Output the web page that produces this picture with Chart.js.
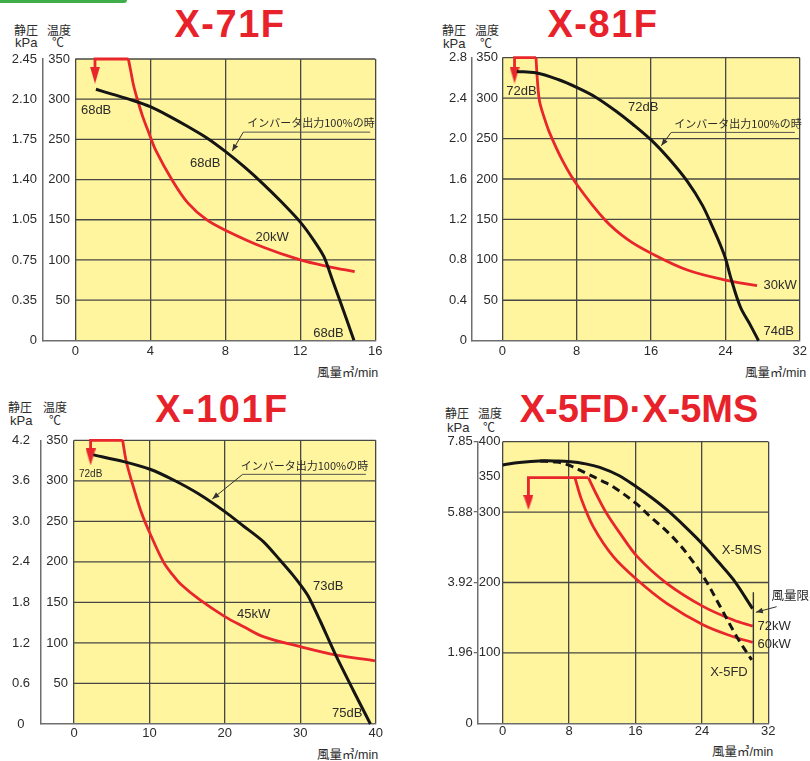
<!DOCTYPE html>
<html><head><meta charset="utf-8">
<script src="https://cdn.jsdelivr.net/npm/chart.js@4.4.1/dist/chart.umd.min.js"></script>
<style>
html,body{margin:0;padding:0;background:#fff;}
body{width:810px;height:761px;position:relative;overflow:hidden;font-family:"Liberation Sans",Arial,"Noto Sans CJK JP",sans-serif;color:#2b2b2b;}
canvas{position:absolute;}
.t{position:absolute;white-space:nowrap;}
.title{font-weight:bold;font-size:38px;line-height:38px;color:#e8222b;letter-spacing:1.5px;transform:translateX(-50%);}
.jp{font-family:"Noto Sans CJK JP",sans-serif;font-size:12px;line-height:12px;}
.unit{font-size:13px;line-height:13px;}
.xl{font-size:12.5px;line-height:14px;}
.green{position:absolute;left:0;top:0;width:127px;height:3px;background:#3fae49;border-bottom-right-radius:3px;}
</style></head><body>
<div class="green"></div>

<div class="t title" style="left:230px;top:5px;">X-71F</div>
<div class="t title" style="left:603px;top:5px;">X-81F</div>
<div class="t title" style="left:222px;top:390px;">X-101F</div>
<div class="t title" style="left:639px;top:390px;letter-spacing:0;">X-5FD·X-5MS</div>

<div class="t jp" style="left:14px;top:23.5px;">静圧</div>
<div class="t unit" style="left:15px;top:36px;">kPa</div>
<div class="t jp" style="left:47px;top:23.5px;">温度</div>
<div class="t jp" style="left:52px;top:36px;">℃</div>

<div class="t jp" style="left:442px;top:24px;">静圧</div>
<div class="t unit" style="left:443px;top:37px;">kPa</div>
<div class="t jp" style="left:475px;top:24px;">温度</div>
<div class="t jp" style="left:480px;top:37px;">℃</div>

<div class="t jp" style="left:8px;top:401px;">静圧</div>
<div class="t unit" style="left:10px;top:414px;">kPa</div>
<div class="t jp" style="left:43px;top:401px;">温度</div>
<div class="t jp" style="left:49px;top:414px;">℃</div>

<div class="t jp" style="left:445px;top:407px;">静圧</div>
<div class="t unit" style="left:447px;top:421px;">kPa</div>
<div class="t jp" style="left:478px;top:407px;">温度</div>
<div class="t jp" style="left:483px;top:421px;">℃</div>

<div class="t xl" style="left:317px;top:366px;">風量㎥/min</div>
<div class="t xl" style="left:745px;top:366px;">風量㎥/min</div>
<div class="t xl" style="left:317px;top:748px;">風量㎥/min</div>
<div class="t xl" style="left:712px;top:745px;">風量㎥/min</div>

<canvas id="c1"></canvas>
<canvas id="c2"></canvas>
<canvas id="c3"></canvas>
<canvas id="c4"></canvas>

<script>
// ================= DATA =================
// ---- X-71F ----
const X71_XTICKS = [0, 4, 8, 12, 16];
const X71_TEMP_TICKS = [50, 100, 150, 200, 250, 300, 350];
const X71_KPA_TICKS = [0, 50, 100, 150, 200, 250, 300, 350];
const X71_KPA_LABELS = ['0', '0.35', '0.75', '1.05', '1.40', '1.75', '2.10', '2.45'];
const X71_HGRID = [50, 100, 150, 200, 250, 300, 350];
const X71_INV_X = [1.1, 2, 3, 4, 5, 6, 7, 8, 9, 10, 11, 12, 12.7, 13.26, 13.7, 14.1, 14.5, 14.86];
const X71_INV_Y = [312.3, 306, 299, 290.7, 279, 266, 252, 235, 216, 195, 172, 147, 125, 104, 76, 50, 24, 0];
const X71_BRACKET_X = [1.05, 1.05, 2.83];
const X71_BRACKET_Y = [330, 350, 350];
const X71_ARROW_X = [1.05];
const X71_ARROW_Y = [330];
const X71_KW_X = [2.83, 2.95, 3.1, 3.32, 3.6, 3.86, 4.3, 5.2, 6, 7, 8, 10, 12, 13.5, 14.9];
const X71_KW_Y = [350, 336, 318, 299, 278, 262, 236, 198, 171, 150, 137, 116, 100, 91.7, 85.4];

// ---- X-81F ----
const X81_XTICKS = [0, 8, 16, 24, 32];
const X81_TEMP_TICKS = [50, 100, 150, 200, 250, 300, 350];
const X81_KPA_TICKS = [0, 50, 100, 150, 200, 250, 300, 350];
const X81_KPA_LABELS = ['0', '0.4', '0.8', '1.2', '1.6', '2.0', '2.4', '2.8'];
const X81_HGRID = [50, 100, 150, 200, 250, 300, 350];
const X81_INV_X = [1.56, 3.6, 6, 8.05, 10, 12.1, 14, 16.03, 18, 19.9, 21.5, 22.6, 23.4, 24.0, 24.55, 25.6, 26.7, 27.56];
const X81_INV_Y = [333, 331.4, 323, 313, 301.5, 285, 268, 248, 224, 197, 168, 141, 120, 102, 79, 42, 19, 0];
const X81_BRACKET_X = [1.31, 1.31, 3.62];
const X81_BRACKET_Y = [329, 350, 350];
const X81_ARROW_X = [1.31];
const X81_ARROW_Y = [328.6];
const X81_KW_X = [3.62, 3.75, 4.0, 4.5, 5.05, 6.5, 8.05, 11.07, 13.5, 16.03, 19.9, 24, 27.4];
const X81_KW_Y = [350, 325, 296, 276, 258, 222, 192.5, 149, 125, 108, 87.4, 75, 68];

// ---- X-101F ----
const X101_XTICKS = [0, 10, 20, 30, 40];
const X101_TEMP_TICKS = [50, 100, 150, 200, 250, 300, 350];
const X101_KPA_TICKS = [0, 50, 100, 150, 200, 250, 300, 350];
const X101_KPA_LABELS = ['0', '0.6', '1.2', '1.8', '2.4', '3.0', '3.6', '4.2'];
const X101_HGRID = [50, 100, 150, 200, 250, 300, 350];
const X101_INV_X = [2.56, 6.6, 10.08, 13.2, 16.5, 20.0, 22.5, 25.1, 27.3, 29, 30.2, 31.1, 32.6, 34.8, 37, 39.3];
const X101_INV_Y = [332, 323.7, 314.3, 301, 284, 262, 244, 225, 202.4, 184, 169.5, 157, 128, 83, 42, 0];
const X101_BRACKET_X = [2.2, 2.2, 6.45];
const X101_BRACKET_Y = [329, 350, 350];
const X101_ARROW_X = [2.2];
const X101_ARROW_Y = [329.4];
const X101_KW_X = [6.45, 6.76, 6.98, 7.87, 8.97, 10.08, 11.85, 13, 14.2, 16.7, 20, 22.5, 25.1, 30, 34.8, 39.9];
const X101_KW_Y = [350, 332, 321.7, 292.5, 260, 235, 200, 185, 172, 153, 132.5, 120, 107.8, 95.4, 85, 78];

// ---- X-5FD / X-5MS ----
const X5_XTICKS = [0, 8, 16, 24, 32];
const X5_TEMP_TICKS = [100, 200, 300, 350, 400];
const X5_KPA_TICKS = [0, 100, 200, 300, 400];
const X5_KPA_LABELS = ['0', '1.96', '3.92', '5.88', '7.85'];
const X5_HGRID = [100, 200, 300, 400];
const X5_MS_X = [0, 2, 4.9, 6.5, 7.9, 10, 11.7, 14, 16.1, 18, 19.8, 22, 24.2, 26, 27.8, 30.1];
const X5_MS_Y = [367, 370.5, 372.8, 372.6, 371.8, 368.5, 363.5, 352, 336, 320, 303, 279, 253, 229, 204, 163];
const X5_FD_X = [4.5, 6.5, 7.9, 10.1, 12, 13.3, 16.1, 18, 19.4, 21, 22.2, 24.2, 26.2, 28.2, 30.0];
const X5_FD_Y = [372.6, 371, 367, 355, 344, 336, 312, 291, 277, 258, 241, 208, 166, 123, 90];
const X5_BRACKET_X = [3.1, 3.1, 10.3];
const X5_BRACKET_Y = [313, 349, 349];
const X5_ARROW_X = [3.1];
const X5_ARROW_Y = [313.6];
const X5_72_X = [10.32, 11.33, 12.53, 14.14, 16.22, 19.76, 24.18, 27.79, 30.12];
const X5_72_Y = [349, 324.3, 298, 269.8, 236.7, 198.8, 165.7, 146.7, 138];
const X5_60_X = [8.7, 9.52, 10.92, 13.33, 16.22, 19.76, 24.18, 27.79, 30.12];
const X5_60_Y = [349, 317, 279, 236.7, 203.6, 170.4, 139.6, 123, 115];
const X5_LIMIT_X = [30.2, 30.2];
const X5_LIMIT_Y = [186, 0];

// ================= STYLE =================
const FONT = '"Liberation Sans", Arial, sans-serif';
const JPFONT = '"Noto Sans CJK JP", sans-serif';
const TXT = '#2b2b2b';
const YELLOW = '#fff59e';
const GRID = '#474743';
const AXIS = '#6e6e6e';
const RED = '#e8262b';
const BLACK = '#151515';

function pts(xs, ys) { return xs.map((x, i) => ({x: x, y: ys[i]})); }

function arrowCanvas(w, h) {
  const c = document.createElement('canvas');
  c.width = w; c.height = h;
  const g = c.getContext('2d');
  g.fillStyle = RED;
  g.beginPath(); g.moveTo(0, 0); g.lineTo(w, 0); g.lineTo(w / 2, h); g.closePath(); g.fill();
  return c;
}

function curve(data, color, extra) {
  return Object.assign({data: data, showLine: true, borderColor: color, backgroundColor: color,
    borderWidth: 2.8, pointRadius: 0, tension: 0.35, clip: 12}, extra || {});
}
function straight(data, color, extra) {
  return Object.assign({data: data, showLine: true, borderColor: color, backgroundColor: color,
    borderWidth: 2.8, pointRadius: 0, tension: 0, clip: 12, borderJoinStyle: 'miter'}, extra || {});
}
function arrowSet(data, w, h) {
  return {data: data, showLine: false, pointStyle: arrowCanvas(w, h), pointRadius: 6, clip: false};
}

function build(p) {
  const cv = document.getElementById(p.id);
  const [cx, cy, W, H] = p.canvas;
  cv.width = W; cv.height = H;
  cv.style.left = cx + 'px'; cv.style.top = cy + 'px';
  const g = p.geom;
  const xMin = -(g.plotL - g.axisX) * p.xMax / (g.plotR - g.plotL);

  const bg = {
    id: 'bg' + p.id,
    beforeDraw(chart) {
      const {ctx} = chart; const x = chart.scales.x, y = chart.scales.y;
      const l = x.getPixelForValue(0), r = x.getPixelForValue(p.xMax);
      const t = y.getPixelForValue(p.yMax), b = y.getPixelForValue(0);
      ctx.save();
      ctx.fillStyle = YELLOW; ctx.fillRect(l, t, r - l, b - t);
      ctx.strokeStyle = GRID; ctx.lineWidth = 1.3;
      for (const v of p.hGrid) {
        const yy = y.getPixelForValue(v);
        ctx.beginPath(); ctx.moveTo(l, yy); ctx.lineTo(r, yy); ctx.stroke();
      }
      ctx.restore();
    }
  };
  const notes = {
    id: 'notes' + p.id,
    afterDatasetsDraw(chart) {
      const {ctx} = chart; const x = chart.scales.x, y = chart.scales.y;
      ctx.save();
      ctx.fillStyle = TXT; ctx.textBaseline = 'middle';
      for (const n of p.texts) {
        ctx.font = n.font || ('13px ' + FONT);
        ctx.textAlign = n.align || 'left';
        ctx.fillText(n.t, x.getPixelForValue(n.x), y.getPixelForValue(n.y));
      }
      function pointer(x1, y1, x2, y2) {
        ctx.strokeStyle = '#333'; ctx.lineWidth = 1;
        ctx.beginPath(); ctx.moveTo(x1, y1); ctx.lineTo(x2, y2); ctx.stroke();
        const a = Math.atan2(y2 - y1, x2 - x1), L = 7, w = 2.8;
        ctx.fillStyle = '#333';
        ctx.beginPath();
        ctx.moveTo(x2, y2);
        ctx.lineTo(x2 - L * Math.cos(a) + w * Math.sin(a), y2 - L * Math.sin(a) - w * Math.cos(a));
        ctx.lineTo(x2 - L * Math.cos(a) - w * Math.sin(a), y2 - L * Math.sin(a) + w * Math.cos(a));
        ctx.closePath(); ctx.fill();
      }
      for (const c of p.callouts) {
        ctx.fillStyle = TXT; ctx.font = '11px ' + JPFONT; ctx.textAlign = 'left';
        ctx.fillText(c.t, x.getPixelForValue(c.tx), y.getPixelForValue(c.ty));
        const ux1 = x.getPixelForValue(c.u1), ux2 = x.getPixelForValue(c.u2), uy = y.getPixelForValue(c.uy);
        ctx.strokeStyle = '#555'; ctx.lineWidth = 1;
        ctx.beginPath(); ctx.moveTo(ux1, uy); ctx.lineTo(ux2, uy); ctx.stroke();
        pointer(ux1, uy, x.getPixelForValue(c.ax), y.getPixelForValue(c.ay));
      }
      for (const q of (p.pointers || [])) {
        pointer(x.getPixelForValue(q.x1), y.getPixelForValue(q.y1), x.getPixelForValue(q.x2), y.getPixelForValue(q.y2));
      }
      ctx.restore();
    }
  };

  new Chart(cv, {
    type: 'scatter',
    data: {datasets: p.datasets},
    options: {
      responsive: false, animation: false, devicePixelRatio: 1,
      layout: {autoPadding: false, padding: {left: 0, top: g.plotT - cy, right: cx + W - g.plotR, bottom: 0}},
      plugins: {legend: {display: false}, tooltip: {enabled: false}},
      elements: {point: {radius: 0}},
      scales: {
        x: {
          type: 'linear', min: xMin, max: p.xMax,
          afterBuildTicks: a => { a.ticks = p.xTicks.map(v => ({value: v})); },
          afterFit: a => { a.height = cy + H - g.plotB; },
          grid: {color: GRID, lineWidth: 1.3, drawTicks: false},
          border: {display: true, color: AXIS, width: 1.5},
          ticks: {padding: p.xPad, color: TXT, font: {family: FONT, size: 13}, maxRotation: 0, autoSkip: false}
        },
        yk: {
          type: 'linear', position: 'left', min: 0, max: p.yMax, weight: 2,
          afterBuildTicks: a => { a.ticks = p.kpaTicks.map(v => ({value: v})); },
          afterFit: a => { a.width = g.axisX - cx; },
          grid: {display: true, drawOnChartArea: false, drawTicks: !!p.kpaTickLen, tickLength: p.kpaTickLen || 0,
                 color: c => (c.tick && c.tick.value === 0) ? 'rgba(0,0,0,0)' : AXIS, lineWidth: 1.3},
          border: {display: true, color: AXIS, width: 1.5},
          ticks: {padding: p.kpaPad, crossAlign: p.kpaAlign, color: TXT, font: {family: FONT, size: 13}, autoSkip: false,
                  callback: (v, i) => p.kpaLabels[i]}
        },
        y: {
          type: 'linear', position: 'left', min: 0, max: p.yMax, weight: 1,
          afterBuildTicks: a => { a.ticks = p.tempTicks.map(v => ({value: v})); },
          afterFit: a => { a.width = 0; },
          grid: {display: false}, border: {display: false},
          ticks: {mirror: true, crossAlign: 'far', padding: p.tempPad, color: TXT, font: {family: FONT, size: 13}, autoSkip: false}
        }
      }
    },
    plugins: [bg, notes]
  });
}

build({
  id: 'c1', canvas: [0, 0, 405, 380],
  geom: {axisX: 43, plotL: 75.3, plotR: 375.3, plotT: 59, plotB: 340.3},
  xMax: 16, yMax: 350, xTicks: X71_XTICKS, tempTicks: X71_TEMP_TICKS, kpaTicks: X71_KPA_TICKS, kpaLabels: X71_KPA_LABELS,
  hGrid: X71_HGRID, kpaPad: 6, kpaAlign: 'near', tempPad: 5.3, xPad: 3,
  datasets: [
    curve(pts(X71_INV_X, X71_INV_Y), BLACK, {borderWidth: 3, tension: 0.25}),
    straight(pts(X71_BRACKET_X, X71_BRACKET_Y), RED),
    curve(pts(X71_KW_X, X71_KW_Y), RED),
    arrowSet(pts(X71_ARROW_X, X71_ARROW_Y), 10, 17)
  ],
  texts: [
    {x: 0.3, y: 286.5, t: '68dB'},
    {x: 6.93, y: 220.5, t: '68dB', align: 'center'},
    {x: 10.5, y: 128.3, t: '20kW', align: 'center'},
    {x: 13.5, y: 8.7, t: '68dB', align: 'center'}
  ],
  callouts: [{t: 'インバータ出力100%の時', tx: 9.17, ty: 270.3, u1: 8.96, u2: 15.73, uy: 259, ax: 8.37, ay: 235.4}]
});

build({
  id: 'c2', canvas: [405, 0, 405, 380],
  geom: {axisX: 471.7, plotL: 502.7, plotR: 803.3, plotT: 57.7, plotB: 340.7},
  xMax: 32, yMax: 350, xTicks: X81_XTICKS, tempTicks: X81_TEMP_TICKS, kpaTicks: X81_KPA_TICKS, kpaLabels: X81_KPA_LABELS,
  hGrid: X81_HGRID, kpaPad: 4.7, kpaAlign: 'near', tempPad: 4.6, xPad: 3,
  datasets: [
    curve(pts(X81_INV_X, X81_INV_Y), BLACK, {borderWidth: 3}),
    straight(pts(X81_BRACKET_X, X81_BRACKET_Y), RED),
    curve(pts(X81_KW_X, X81_KW_Y), RED),
    arrowSet(pts(X81_ARROW_X, X81_ARROW_Y), 10, 17)
  ],
  texts: [
    {x: 0.43, y: 307.9, t: '72dB'},
    {x: 15.15, y: 288.5, t: '72dB', align: 'center'},
    {x: 28.1, y: 68, t: '30kW'},
    {x: 28.1, y: 12, t: '74dB'}
  ],
  callouts: [{t: 'インバータ出力100%の時', tx: 18.5, ty: 268.8, u1: 18.16, u2: 31.47, uy: 257.6, ax: 17.1, ay: 241.1}]
});

build({
  id: 'c3', canvas: [0, 380, 405, 381],
  geom: {axisX: 41, plotL: 74, plotR: 375.7, plotT: 440.3, plotB: 724},
  xMax: 40, yMax: 350, xTicks: X101_XTICKS, tempTicks: X101_TEMP_TICKS, kpaTicks: X101_KPA_TICKS, kpaLabels: X101_KPA_LABELS,
  hGrid: X101_HGRID, kpaPad: 11, kpaAlign: 'center', tempPad: 5.3, xPad: 1.5,
  datasets: [
    curve(pts(X101_INV_X, X101_INV_Y), BLACK, {borderWidth: 3, tension: 0.25}),
    straight(pts(X101_BRACKET_X, X101_BRACKET_Y), RED),
    curve(pts(X101_KW_X, X101_KW_Y), RED),
    arrowSet(pts(X101_ARROW_X, X101_ARROW_Y), 10, 17)
  ],
  texts: [
    {x: 0.66, y: 308, t: '72dB', font: '10px ' + FONT},
    {x: 31.7, y: 169.5, t: '73dB'},
    {x: 21.6, y: 135.7, t: '45kW'},
    {x: 34.2, y: 13.2, t: '75dB'}
  ],
  callouts: [{t: 'インバータ出力100%の時', tx: 22.1, ty: 318.4, u1: 22.36, u2: 38.7, uy: 308, ax: 18.34, ay: 277.7}]
});

build({
  id: 'c4', canvas: [405, 380, 405, 381],
  geom: {axisX: 477.7, plotL: 502.7, plotR: 768.3, plotT: 441.7, plotB: 723.3},
  xMax: 32, yMax: 400, xTicks: X5_XTICKS, tempTicks: X5_TEMP_TICKS, kpaTicks: X5_KPA_TICKS, kpaLabels: X5_KPA_LABELS,
  hGrid: X5_HGRID, kpaPad: 1, kpaAlign: 'near', kpaTickLen: 4, tempPad: 1, xPad: 0.5,
  datasets: [
    curve(pts(X5_MS_X, X5_MS_Y), BLACK, {borderWidth: 3}),
    curve(pts(X5_FD_X, X5_FD_Y), BLACK, {borderWidth: 3, borderDash: [8, 5]}),
    straight(pts(X5_LIMIT_X, X5_LIMIT_Y), '#333', {borderWidth: 1.4}),
    straight(pts(X5_BRACKET_X, X5_BRACKET_Y), RED),
    curve(pts(X5_72_X, X5_72_Y), RED),
    curve(pts(X5_60_X, X5_60_Y), RED),
    arrowSet(pts(X5_ARROW_X, X5_ARROW_Y), 10, 15)
  ],
  texts: [
    {x: 26.4, y: 245.2, t: 'X-5MS'},
    {x: 32.4, y: 182.2, t: '風量限界', font: '12.5px ' + JPFONT},
    {x: 30.7, y: 137.3, t: '72kW'},
    {x: 30.7, y: 112.7, t: '60kW'},
    {x: 25.0, y: 72.4, t: 'X-5FD'}
  ],
  callouts: [],
  pointers: [{x1: 33.0, y1: 165.6, x2: 30.5, y2: 157.7}]
});
</script>
</body></html>
